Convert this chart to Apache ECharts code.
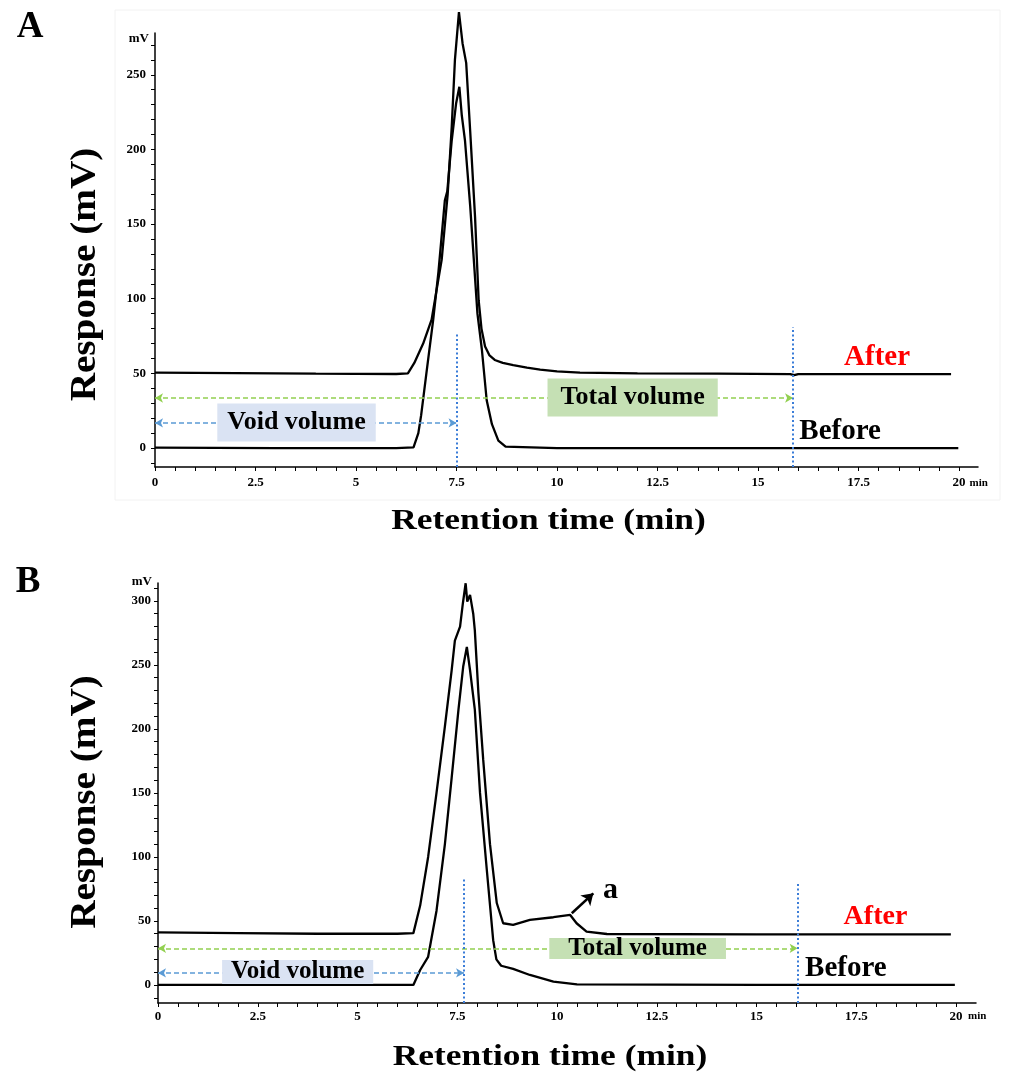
<!DOCTYPE html>
<html><head><meta charset="utf-8">
<script src="https://cdn.jsdelivr.net/npm/echarts@6/dist/echarts.min.js"></script>
<style>html,body{margin:0;padding:0;background:#fff}#c{width:1011px;height:1077px}</style>
</head><body><div id="c"></div>
<script>
// ---------- data ----------
const xTickLabels = [0, 2.5, 5, 7.5, 10, 12.5, 15, 17.5, 20];
const yTickLabelsA = [0, 50, 100, 150, 200, 250];
const yTickLabelsB = [0, 50, 100, 150, 200, 250, 300];

// Panel A (min, mV)
const timeAfterA  = [0, 2.0, 4.0, 6.0, 6.29, 6.45, 6.67, 6.88, 7.13, 7.28, 7.38, 7.46, 7.56, 7.65, 7.74, 7.84, 7.96, 8.05, 8.12, 8.21, 8.32, 8.45, 8.65, 8.91, 9.25, 9.58, 10.0, 10.57, 12.0, 14.0, 15.8, 15.9, 16.0, 18.0, 19.8];
const valueAfterA = [50.5, 50.2, 49.8, 49.6, 50, 57, 70, 86, 126, 170, 215, 260, 292, 271, 258, 212, 155, 99, 80, 68, 62, 59, 57, 55.6, 53.8, 52.5, 51.3, 50.5, 50.0, 49.8, 49.5, 48.8, 49.5, 49.5, 49.5];
const timeBeforeA  = [0, 3, 6.0, 6.43, 6.55, 6.62, 6.75, 6.92, 7.05, 7.21, 7.27, 7.38, 7.49, 7.57, 7.63, 7.71, 7.84, 8.02, 8.13, 8.25, 8.38, 8.54, 8.72, 10, 15, 19.98];
const valueBeforeA = [0.3, 0, 0, 0.5, 10, 22, 50, 86, 118, 166, 172, 206, 231, 242, 223, 206, 162, 90, 66, 32, 16, 5, 1, 0, 0, 0];

// Panel B (min, mV)
const timeAfterB  = [0, 2, 4, 6.0, 6.40, 6.57, 6.77, 6.98, 7.19, 7.36, 7.44, 7.57, 7.64, 7.71, 7.75, 7.82, 7.90, 7.94, 8.03, 8.15, 8.32, 8.49, 8.65, 8.90, 9.32, 9.91, 10.33, 10.49, 10.74, 11.25, 15, 19.87];
const valueAfterB = [41, 40.5, 40, 40, 40.5, 62, 100, 150, 202, 246, 269, 280, 298, 313.8, 299.5, 304.7, 290, 277, 228, 176, 110, 64, 48.2, 46.9, 50.8, 52.9, 54.7, 48.2, 41.7, 39.8, 39.5, 39.5];
const timeBeforeB  = [0, 3, 6.0, 6.40, 6.57, 6.77, 6.98, 7.19, 7.36, 7.53, 7.65, 7.74, 7.82, 7.94, 8.07, 8.24, 8.40, 8.48, 8.60, 8.90, 9.32, 9.91, 10.5, 15, 19.97];
const valueBeforeB = [0, 0, 0, 0, 11.7, 22, 58, 110, 162, 215, 249, 264, 246, 215, 150, 90, 35, 20, 15, 12.5, 7.8, 2.6, 0.5, 0, 0];

// annotation positions (data coordinates)
const voidA = 7.5, totalA = 15.87, voidB = 7.67, totalB = 16.03;

// ---------- helpers ----------
const FONT = '"Liberation Serif", "Times New Roman", serif';
const zip = (t, v) => t.map((x, i) => [x, v[i]]);
const range = (a, b, s) => { const r = []; for (let x = a; x <= b + 1e-9; x += s) r.push(+x.toFixed(4)); return r; };
const xMinor = range(0, 20, 0.5);

function xAxisCfg(gi, max, margin, nameGap, padTop) {
  return {
    gridIndex: gi, type: 'value', min: 0, max: max,
    axisLine: { show: true, onZero: false, lineStyle: { color: '#000', width: 1.5 } },
    axisTick: { show: true, customValues: xMinor, length: 4, lineStyle: { color: '#000', width: 1 } },
    axisLabel: { customValues: xTickLabels, margin: margin, color: '#000', fontSize: 13, fontWeight: 'bold', fontFamily: FONT },
    splitLine: { show: false },
    name: 'min', nameLocation: 'end', nameGap: nameGap,
    nameTextStyle: { color: '#000', fontSize: 11, fontWeight: 'bold', fontFamily: FONT, align: 'left', verticalAlign: 'top', padding: [padTop, 0, 0, 0] }
  };
}
function yAxisCfg(gi, min, max, labels, margin, nameGap) {
  return {
    gridIndex: gi, type: 'value', min: min, max: max,
    axisLine: { show: true, onZero: false, lineStyle: { color: '#000', width: 1.5 } },
    axisTick: { show: true, customValues: range(-10, max - 1, 10), length: 4, lineStyle: { color: '#000', width: 1 } },
    axisLabel: { customValues: labels, margin: margin, color: '#000', fontSize: 13, fontWeight: 'bold', fontFamily: FONT },
    splitLine: { show: false },
    name: 'mV', nameLocation: 'end', nameGap: nameGap,
    nameTextStyle: { color: '#000', fontSize: 13, fontWeight: 'bold', fontFamily: FONT, align: 'right', verticalAlign: 'middle', padding: [0, 6, 0, 0] }
  };
}
function arrowLine(y, x0, x1, color) {
  return [{ coord: [x0, y], lineStyle: { color: color, type: [5, 3], width: 1.5 }, symbol: 'arrow' }, { coord: [x1, y], symbol: 'arrow' }];
}
function vLine(x, ymin, ytop) {
  return [{ coord: [x, ymin], symbol: 'none', lineStyle: { color: '#3b7dd8', type: [2, 2.5], width: 2 } }, { coord: [x, ytop], symbol: 'none' }];
}
function textMark(name, t, v, size, color, bg, pad, lh) {
  return {
    name: name, coord: [t, v], symbolSize: 1, itemStyle: { color: 'rgba(0,0,0,0)' },
    label: { show: true, position: 'inside', formatter: '{b}', color: color, fontSize: size, fontWeight: 'bold', fontFamily: FONT,
      backgroundColor: bg || 'transparent', padding: pad || 0, lineHeight: lh || size }
  };
}
const lineStyleCurve = { color: '#000', width: 2.3 };

const minA = -12.7, maxA = 278, minB = -14.1, maxB = 314;

const option = {
  animation: false,
  backgroundColor: '#fff',
  grid: [
    { left: 155, top: 33, width: 823, height: 434 },
    { left: 158, top: 583, width: 818, height: 420 }
  ],
  xAxis: [xAxisCfg(0, 20.47, 9, -11, 11), xAxisCfg(1, 20.5, 7, -8, 8)],
  yAxis: [yAxisCfg(0, minA, maxA, yTickLabelsA, 9, -6), yAxisCfg(1, minB, maxB, yTickLabelsB, 7, 1)],
  series: [
    { type: 'line', name: 'After A', xAxisIndex: 0, yAxisIndex: 0, data: zip(timeAfterA, valueAfterA), showSymbol: false, clip: false, lineStyle: lineStyleCurve, silent: true,
      markPoint: { silent: true, data: [
        textMark('After', 17.96, 60.5, 29, '#ff0000'),
        textMark('Before', 17.04, 10.7, 29, '#000')
      ] } },
    { type: 'line', name: 'Before A', xAxisIndex: 0, yAxisIndex: 0, data: zip(timeBeforeA, valueBeforeA), showSymbol: false, clip: false, lineStyle: lineStyleCurve, silent: true,
      markLine: { silent: true, symbolSize: [7, 8], label: { show: false }, data: [
        arrowLine(33.5, 0, totalA, '#92d050'),
        arrowLine(16.8, 0, voidA, '#5b9bd5'),
        vLine(voidA, minA, 77),
        vLine(totalA, minA, 81)
      ] },
      markPoint: { silent: true, data: [
        textMark('Void volume', 3.52, 16.8, 26, '#000', '#dae3f3', [6, 10, 6, 10], 26),
        textMark('Total volume', 11.88, 33.5, 26, '#000', '#c5e0b4', [6, 13, 6, 13], 26)
      ] } },
    { type: 'line', name: 'After B', xAxisIndex: 1, yAxisIndex: 1, data: zip(timeAfterB, valueAfterB), showSymbol: false, clip: false, lineStyle: lineStyleCurve, silent: true,
      markLine: { silent: true, symbol: ['none', 'arrow'], symbolSize: 11, label: { show: false }, data: [
        [{ coord: [10.37, 56], lineStyle: { color: '#000', type: 'solid', width: 2.5 } }, { coord: [10.91, 71.6] }]
      ] },
      markPoint: { silent: true, data: [
        textMark('After', 17.98, 53, 28, '#ff0000'),
        textMark('Before', 17.24, 12.5, 29, '#000'),
        textMark('a', 11.34, 73.5, 30, '#000')
      ] } },
    { type: 'line', name: 'Before B', xAxisIndex: 1, yAxisIndex: 1, data: zip(timeBeforeB, valueBeforeB), showSymbol: false, clip: false, lineStyle: lineStyleCurve, silent: true,
      markLine: { silent: true, symbolSize: [7, 8], label: { show: false }, data: [
        arrowLine(28.6, 0, totalB, '#92d050'),
        arrowLine(9.4, 0, voidB, '#5b9bd5'),
        vLine(voidB, minB, 82.8),
        vLine(totalB, minB, 80.7)
      ] },
      markPoint: { silent: true, data: [
        textMark('Void volume', 3.50, 9.8, 25, '#000', '#dae3f3', [1, 9, 1, 9], 22),
        textMark('Total volume', 12.02, 28, 25, '#000', '#c5e0b4', [0, 19, 0, 19], 21)
      ] } }
  ],
  graphic: [
    { type: 'rect', shape: { x: 115, y: 10, width: 885, height: 490 }, style: { fill: 'none', stroke: '#f2f2f2', lineWidth: 1 }, silent: true, z: -1 },
    { type: 'text', x: 30, y: 27, style: { text: 'A', fontSize: 37, fontWeight: 'bold', fontFamily: FONT, fill: '#000', align: 'center', verticalAlign: 'middle' } },
    { type: 'text', x: 28, y: 582, style: { text: 'B', fontSize: 37, fontWeight: 'bold', fontFamily: FONT, fill: '#000', align: 'center', verticalAlign: 'middle' } },
    { type: 'text', x: 548.5, y: 522, scaleX: 1.22, style: { text: 'Retention time (min)', fontSize: 29, fontWeight: 'bold', fontFamily: FONT, fill: '#000', align: 'center', verticalAlign: 'middle' } },
    { type: 'text', x: 550, y: 1058, scaleX: 1.22, style: { text: 'Retention time (min)', fontSize: 29, fontWeight: 'bold', fontFamily: FONT, fill: '#000', align: 'center', verticalAlign: 'middle' } },
    { type: 'text', x: 86, y: 274.5, rotation: Math.PI / 2, scaleX: 1.12, style: { text: 'Response (mV)', fontSize: 35, fontWeight: 'bold', fontFamily: FONT, fill: '#000', align: 'center', verticalAlign: 'middle' } },
    { type: 'text', x: 86, y: 802, rotation: Math.PI / 2, scaleX: 1.12, style: { text: 'Response (mV)', fontSize: 35, fontWeight: 'bold', fontFamily: FONT, fill: '#000', align: 'center', verticalAlign: 'middle' } }
  ]
};
const chart = echarts.init(document.getElementById('c'), null, { renderer: 'canvas' });
chart.setOption(option);
</script></body></html>
